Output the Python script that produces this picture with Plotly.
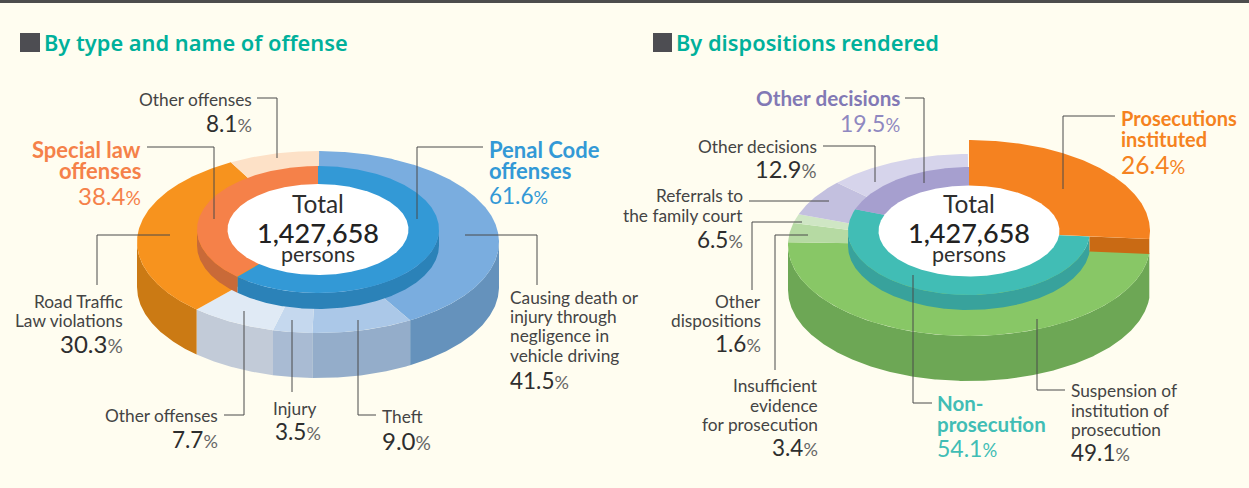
import numpy as np
import plotly.graph_objects as go

# ---------- data ----------
total_label = "1,427,658"
offense_major_names = ["Penal Code<br>offenses", "Special law<br>offenses"]
offense_major_values = [61.6, 38.4]
offense_detail_names = ["Causing death or<br>injury through<br>negligence in<br>vehicle driving", "Theft", "Injury",
                        "Other offenses", "Road Traffic<br>Law violations", "Other offenses"]
offense_detail_values = [41.5, 9.0, 3.5, 7.7, 30.3, 8.1]

disp_major_names = ["Prosecutions<br>instituted", "Non-<br>prosecution", "Other decisions"]
disp_major_values = [26.4, 54.1, 19.5]
disp_detail_names = ["Suspension of<br>institution of<br>prosecution", "Insufficient<br>evidence<br>for prosecution",
                     "Other<br>dispositions", "Referrals to<br>the family court", "Other decisions"]
disp_detail_values = [49.1, 3.4, 1.6, 6.5, 12.9]

# ---------- style ----------
BG = "#FFFDF0"
FONT = "Lato"
TITLE_FONT = "Noto Sans"
TEAL = "#00B09B"
DARK = "#2E2E2E"
LABEL = "#444444"
LINE = "#4A4A4A"
SMALL = 17.3
BOLD = 22

offense_major_top = ["#3399D6", "#F58149"]
offense_major_wall = ["#2B82B8", "#C96A38"]
offense_detail_top = ["#7AADDF", "#ABC8E8", "#C5D8EE", "#E0EAF5", "#F7931E", "#FDE1C7"]
offense_detail_wall = ["#6592BC", "#94ADCA", "#A9BBD3", "#C2CBD8", "#CB7A14", "#CB7A14"]

disp_major_top = ["#F58220", "#41BDB5", "#A69FCF"]
disp_major_wall = ["#C96A14", "#38A29C", "#8F88B5"]
disp_detail_top = ["#88C766", "#B6DAA3", "#CFE6C4", "#C3C0DF", "#D6D4EB"]
disp_detail_wall = ["#6DA755"] * 5

fig = go.Figure()


def poly(x, y, color):
    fig.add_trace(go.Scatter(x=x, y=y, mode="lines", fill="toself", fillcolor=color,
                             line=dict(width=0, color=color), hoverinfo="skip", showlegend=False))


def pts(cx, cy, rx, ry, a0, a1):
    n = max(2, int(abs(a1 - a0)) * 2 + 2)
    t = np.radians(np.linspace(a0, a1, n))
    return cx + rx * np.sin(t), cy - ry * np.cos(t)


def wedge(cx, cy, rx, ry, a0, a1, color):
    x, y = pts(cx, cy, rx, ry, a0, a1)
    poly(np.r_[cx, x, cx], np.r_[cy, y, cy], color)


def wall(cx, cy, rx, ry, a0, a1, depth, color):
    a0, a1 = max(a0, 90), min(a1, 270)
    if a1 <= a0:
        return
    x, y = pts(cx, cy, rx, ry, a0, a1)
    poly(np.r_[x, x[::-1], x[0]], np.r_[y, y[::-1] + depth, y[0]], color)


def spans(values, start=0.0):
    edges = np.cumsum([start] + list(values)) * 3.6
    return list(zip(edges[:-1], edges[1:]))


def ellipse(cx, cy, rx, ry, color):
    x, y = pts(cx, cy, rx, ry, 0, 360)
    poly(x, y, color)


def lead(xs, ys):
    fig.add_trace(go.Scatter(x=xs, y=ys, mode="lines", line=dict(width=1, color=LINE),
                             hoverinfo="skip", showlegend=False))


anns = []


def text(x, y, s, size=SMALL, color=LABEL, anchor="left", font=FONT, weight=None):
    f = dict(family=font, size=size, color=color)
    if weight:
        f["weight"] = weight
    anns.append(dict(x=x, y=y, text=s, showarrow=False, xanchor=anchor, yanchor="middle",
                     align=anchor, font=f, xref="x", yref="y", borderpad=0, borderwidth=0))


def lines(x, ys, s, anchor="left", size=SMALL, color=LABEL, weight=None):
    for y, part in zip(ys, s.split("<br>")):
        text(x, y, part, size, color, anchor, weight=weight)


def pct(x, y, v, anchor="left", color=DARK, pcolor="#666666", size=22.5):
    s = f'{v:.1f}<span style="font-size:{size * 0.8:.1f}px;color:{pcolor}">%</span>'
    text(x, y, s, size=size, color=color, anchor=anchor)


def centre(cx):
    text(cx, 203, "Total", 24.5, DARK, "center")
    text(cx, 232, total_label, 27, "#222222", "center", weight=500)
    text(cx, 254, "persons", 21.5, DARK, "center")


# ---------- left chart ----------
LX, LY_OUT, LY_IN = 318, 242, 229.5
a = spans(offense_detail_values)
for (s, e), c in zip(a, offense_detail_wall):
    wall(LX, LY_OUT, 181, 91, s, e, 45, c)
for (s, e), c in zip(a, offense_detail_top):
    wedge(LX, LY_OUT, 181, 91, s, e, c)
a = spans(offense_major_values)
for (s, e), c in zip(a, offense_major_wall):
    wall(LX, LY_IN, 121, 63.5, s, e, 16, c)
for (s, e), c in zip(a, offense_major_top):
    wedge(LX, LY_IN, 121, 63.5, s, e, c)
ellipse(LX, LY_IN, 90.5, 45.5, "#FFFFFF")

# ---------- right chart ----------
RX, RY_OUT, RY_IN = 969, 245, 231
a = spans(disp_detail_values, disp_major_values[0])
for (s, e), c in zip(a, disp_detail_wall):
    wall(RX, RY_OUT, 181, 91, s, e, 45, c)
for (s, e), c in zip(a, disp_detail_top):
    wedge(RX, RY_OUT, 181, 91, s, e, c)
a = spans(disp_major_values)
for (s, e), c in list(zip(a, disp_major_wall))[1:]:
    wall(RX, RY_IN, 121, 64, s, e, 15, c)
for (s, e), c in list(zip(a, disp_major_top))[1:]:
    wedge(RX, RY_IN, 121, 64, s, e, c)
# raised prosecution slice and its cut face
s, e = a[0]
xi, yi = pts(RX, RY_IN, 121, 64, e, e)
xo, yo = pts(RX, RY_IN, 181, 91, e, e)
poly([xi[0], xo[0], xo[0], xi[0], xi[0]], [yi[0], yo[0], yo[0] + 15, yi[0] + 15, yi[0]], disp_major_wall[0])
wedge(RX, RY_IN, 181, 91, s, e, disp_major_top[0])
ellipse(RX, RY_IN, 90.5, 45.5, "#FFFFFF")

# ---------- leader lines ----------
lead([257, 277, 277], [98, 98, 158])
lead([147, 214, 214], [147, 147, 219])
lead([483, 417, 417], [147, 147, 219])
lead([97, 97, 170], [285, 235, 235])
lead([465, 537, 537], [235, 235, 285])
lead([224, 244, 244], [415, 415, 311])
lead([292, 292], [320, 392])
lead([358, 358, 376], [320, 415, 415])

lead([905, 924, 924], [98, 98, 183])
lead([1115, 1063, 1063], [116, 116, 189])
lead([823, 875, 875], [146, 146, 182])
lead([749, 829], [201, 201])
lead([752, 752, 802], [290, 222, 222])
lead([775, 775, 808], [370, 235, 235])
lead([913, 913, 932], [275, 403, 403])
lead([1037, 1037, 1065], [319, 390, 390])

# ---------- titles ----------
shapes = [
    dict(type="rect", x0=0, x1=1249, y0=0, y1=3, fillcolor="#4D4D4D", line_width=0, layer="above"),
    dict(type="rect", x0=20, x1=40, y0=33, y1=52, fillcolor="#4D4D52", line_width=0),
    dict(type="rect", x0=653, x1=672, y0=33, y1=52, fillcolor="#4D4D52", line_width=0),
]
text(44, 42, "By type and name of offense", 21.8, TEAL, "left", TITLE_FONT, 600)
text(676, 42, "By dispositions rendered", 21.8, TEAL, "left", TITLE_FONT, 600)

# ---------- left labels ----------
ORANGE_L, BLUE_L = "#F58149", "#3399D6"
lines(252, [99], offense_detail_names[5], "right")
pct(252, 123, offense_detail_values[5], "right")
lines(141, [149, 170], offense_major_names[1], "right", BOLD, ORANGE_L, 700)
pct(141, 195, offense_major_values[1], "right", ORANGE_L, ORANGE_L, 24)
lines(489, [149, 170], offense_major_names[0], "left", BOLD, BLUE_L, 700)
pct(489, 195, offense_major_values[0], "left", BLUE_L, BLUE_L)
lines(123, [301, 320], offense_detail_names[4], "right")
pct(123, 343, offense_detail_values[4], "right", size=24)
lines(510, [297, 316, 335, 355], offense_detail_names[0], "left")
pct(510, 380, offense_detail_values[0], "left")
lines(218, [415], offense_detail_names[3], "right")
pct(218, 439, offense_detail_values[3], "right")
lines(294, [408], offense_detail_names[2], "center")
pct(298, 431, offense_detail_values[2], "center")
lines(382, [416], offense_detail_names[1], "left")
pct(382, 440, offense_detail_values[1], "left", size=24)
centre(LX)

# ---------- right labels ----------
PURPLE, ORANGE_R, TEAL_R = "#8279B5", "#F58220", "#41BDB5"
lines(900, [98], disp_major_names[2], "right", 20.7, PURPLE, 700)
pct(900, 123, disp_major_values[2], "right", "#8F88C0", "#8F88C0", 23)
lines(1121, [118, 139], disp_major_names[0], "left", 20, ORANGE_R, 700)
pct(1121, 164, disp_major_values[0], "left", ORANGE_R, ORANGE_R, 24.5)
lines(937, [403, 424], disp_major_names[1], "left", 20.5, TEAL_R, 700)
pct(937, 448, disp_major_values[1], "left", TEAL_R, TEAL_R, 23)
lines(817, [146], disp_detail_names[4], "right")
pct(817, 169, disp_detail_values[4], "right", size=23.5)
lines(743, [195, 215], disp_detail_names[3], "right")
pct(743, 239, disp_detail_values[3], "right")
lines(761, [301, 320], disp_detail_names[2], "right")
pct(761, 343, disp_detail_values[2], "right")
lines(818, [385, 405, 424], disp_detail_names[1], "right")
pct(818, 447, disp_detail_values[1], "right")
lines(1071, [390, 410, 429], disp_detail_names[0], "left")
pct(1071, 452, disp_detail_values[0], "left")
centre(RX)

fig.update_layout(
    width=1249, height=488, autosize=False,
    margin=dict(l=0, r=0, t=0, b=0),
    paper_bgcolor=BG, plot_bgcolor=BG, showlegend=False,
    xaxis=dict(range=[0, 1249], visible=False, fixedrange=True),
    yaxis=dict(range=[488, 0], visible=False, fixedrange=True),
    annotations=anns, shapes=shapes,
)
fig.write_html("out.html", config=dict(displayModeBar=False),
               post_script="document.body.style.margin='0';document.body.style.overflow='hidden';"
                           "document.body.style.background='%s';" % BG)
